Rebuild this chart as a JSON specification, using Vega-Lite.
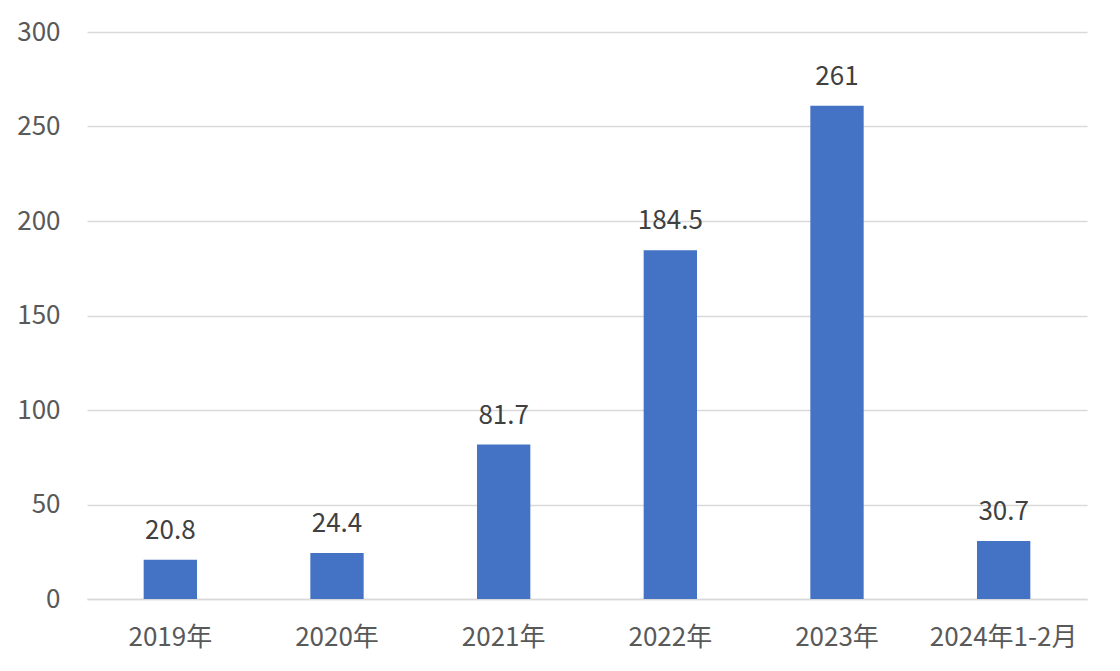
{
  "$schema": "https://vega.github.io/schema/vega-lite/v6.json",
  "autosize": "none",
  "width": 1000,
  "height": 567,
  "padding": {"left": 87, "top": 32, "right": 33, "bottom": 72},
  "background": "white",
  "config": {"view": {"stroke": null}, "font": "Noto Sans CJK SC"},
  "data": {"values": [
    {"year": "2019年", "value": 20.8},
    {"year": "2020年", "value": 24.4},
    {"year": "2021年", "value": 81.7},
    {"year": "2022年", "value": 184.5},
    {"year": "2023年", "value": 261},
    {"year": "2024年1-2月", "value": 30.7}
  ]},
  "encoding": {
    "x": {"field": "year", "type": "nominal", "sort": null,
      "scale": {"paddingInner": 0.68, "paddingOuter": 0.34},
      "axis": {"title": null, "labelAngle": 0, "ticks": false, "domainColor": "#d9d9d9", "domainWidth": 1.5,
        "labelFontSize": 26, "labelColor": "#595959", "labelPadding": 25, "labelFont": "Noto Sans CJK SC"}},
    "y": {"field": "value", "type": "quantitative",
      "scale": {"domain": [0, 300], "nice": false},
      "axis": {"title": null, "values": [0, 50, 100, 150, 200, 250, 300], "ticks": false, "domain": false,
        "gridColor": "#d9d9d9", "gridWidth": 1.5, "labelFontSize": 26, "labelColor": "#595959", "labelPadding": 27}}
  },
  "layer": [
    {"mark": {"type": "bar", "color": "#4472C4"}},
    {"mark": {"type": "text", "dy": -29, "fontSize": 26, "color": "#404040", "baseline": "middle"},
      "encoding": {"text": {"field": "value", "type": "quantitative"}}}
  ]
}
